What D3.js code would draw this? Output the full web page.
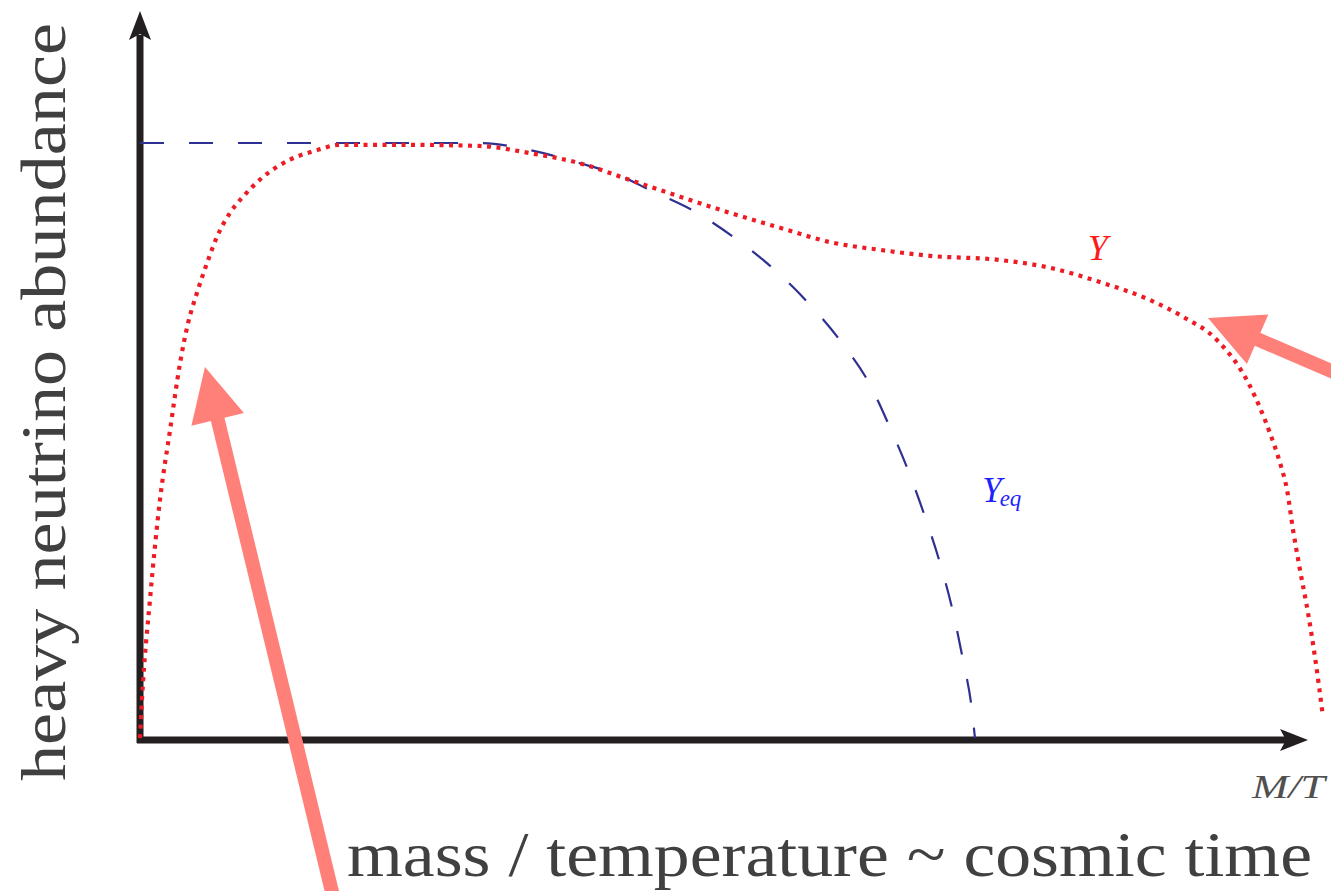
<!DOCTYPE html>
<html>
<head>
<meta charset="utf-8">
<script src="https://cdn.jsdelivr.net/npm/d3@7"></script>
<style>
  body { margin: 0; background: #fff; }
  svg { display: block; }
</style>
</head>
<body>
<div id="chart"></div>
<script>
// abundance curves (x = M/T, y = abundance, plateau = 1)
var yX = [0, 0.017, 0.086, 0.172, 0.259, 0.345, 0.414, 0.491, 0.578, 0.664, 0.776, 0.888, 1.06, 1.293, 1.526, 1.724, 2.241, 2.931, 3.362, 3.793, 4.224, 4.655, 5.086, 5.517, 5.948, 6.379, 6.81, 7.414, 7.845, 8.276, 8.707, 8.991, 9.284, 9.563, 9.741, 9.828, 9.888, 9.94, 10.0, 10.069, 10.129, 10.198];
var yVal = [0.003, 0.067, 0.235, 0.402, 0.519, 0.631, 0.698, 0.749, 0.799, 0.843, 0.883, 0.91, 0.943, 0.972, 0.988, 0.997, 0.997, 0.995, 0.983, 0.966, 0.938, 0.91, 0.883, 0.858, 0.834, 0.821, 0.811, 0.804, 0.791, 0.767, 0.737, 0.709, 0.67, 0.595, 0.514, 0.464, 0.419, 0.352, 0.285, 0.213, 0.139, 0.039];

var yeqX = [0, 2.931, 3.362, 3.793, 4.138, 4.397, 4.802, 5.147, 5.474, 5.776, 6.052, 6.293, 6.448, 6.621, 6.767, 6.897, 7.009, 7.095, 7.172, 7.198];
var yeqVal = [1, 1, 0.988, 0.966, 0.945, 0.921, 0.883, 0.838, 0.787, 0.729, 0.665, 0.595, 0.531, 0.452, 0.374, 0.296, 0.214, 0.134, 0.05, 0.003];

// pink annotation arrows: [fromX, fromY, tipX, tipY]
var arrows = [
    [1.672, -0.268, 0.56, 0.625],
    [10.388, 0.608, 9.207, 0.707]
];

var xLabel = "mass / temperature ~ cosmic time";
var yLabel = "heavy neutrino abundance";

function init() {
    drawChart();
}

function drawChart() {
    var width = 1331, height = 891;

    var svg = d3.select("div#chart")
        .append("svg")
        .attr("width", width)
        .attr("height", height);

    var x = d3.scaleLinear().domain([0, 10]).range([140, 1300]);
    var y = d3.scaleLinear().domain([0, 1]).range([740, 143]);

    var axisColor = "#231f20";
    var xEnd = 10.069, yEnd = 1.221;

    // axes
    svg.append("line")
        .attr("x1", x(0)).attr("y1", y(0) + 3)
        .attr("x2", x(0)).attr("y2", y(yEnd) + 24)
        .attr("stroke", axisColor).attr("stroke-width", 7);
    svg.append("line")
        .attr("x1", x(0) - 3).attr("y1", y(0))
        .attr("x2", x(xEnd) - 22).attr("y2", y(0))
        .attr("stroke", axisColor).attr("stroke-width", 7);

    // axis arrow heads
    var ty = y(yEnd), tx = x(xEnd);
    svg.append("path")
        .attr("d", "M" + x(0) + "," + ty + " L" + (x(0) - 11) + "," + (ty + 29) +
            " L" + x(0) + "," + (ty + 23) + " L" + (x(0) + 11) + "," + (ty + 29) + "Z")
        .attr("fill", axisColor);
    svg.append("path")
        .attr("d", "M" + tx + "," + y(0) + " L" + (tx - 28) + "," + (y(0) - 11) +
            " L" + (tx - 22) + "," + y(0) + " L" + (tx - 28) + "," + (y(0) + 11) + "Z")
        .attr("fill", axisColor);

    var line = d3.line()
        .x(function(d) { return x(d[0]); })
        .y(function(d) { return y(d[1]); })
        .curve(d3.curveMonotoneX);

    // Y_eq dashed
    svg.append("path")
        .datum(d3.zip(yeqX, yeqVal))
        .attr("d", line)
        .attr("fill", "none")
        .attr("stroke", "#2e3192")
        .attr("stroke-width", 2.2)
        .attr("stroke-dasharray", "24,25");

    // Y dotted
    svg.append("path")
        .datum(d3.zip(yX, yVal))
        .attr("d", line)
        .attr("fill", "none")
        .attr("stroke", "#ed1c24")
        .attr("stroke-width", 4.2)
        .attr("stroke-dasharray", "4,5.5");

    // curve labels
    svg.append("text")
        .attr("x", x(8.17)).attr("y", y(0.804))
        .attr("font-family", "'Liberation Serif', serif")
        .attr("font-style", "italic")
        .attr("font-size", 36)
        .attr("fill", "#ff1a1a")
        .text("Y");

    var eq = svg.append("text")
        .attr("x", x(7.26)).attr("y", y(0.399))
        .attr("font-family", "'Liberation Serif', serif")
        .attr("font-style", "italic")
        .attr("font-size", 35)
        .attr("fill", "#1f1fff");
    eq.append("tspan").text("Y");
    eq.append("tspan").attr("font-size", 23).attr("dy", 4).attr("dx", -2).text("eq");

    svg.append("text")
        .attr("x", x(9.586)).attr("y", y(-0.097))
        .attr("font-family", "'Liberation Serif', serif")
        .attr("font-style", "italic")
        .attr("font-size", 33)
        .attr("fill", "#505050")
        .attr("textLength", 73)
        .attr("lengthAdjust", "spacingAndGlyphs")
        .text("M/T");

    // axis titles
    svg.append("text")
        .attr("x", 347).attr("y", 876)
        .attr("font-family", "'Liberation Serif', serif")
        .attr("font-size", 64)
        .attr("fill", "#404040")
        .attr("textLength", 965)
        .attr("lengthAdjust", "spacingAndGlyphs")
        .text(xLabel);

    svg.append("text")
        .attr("transform", "translate(65,402) rotate(-90)")
        .attr("text-anchor", "middle")
        .attr("font-family", "'Liberation Serif', serif")
        .attr("font-size", 64)
        .attr("fill", "#404040")
        .attr("textLength", 758)
        .attr("lengthAdjust", "spacingAndGlyphs")
        .text(yLabel);

    // annotation arrows
    var pink = "#ff7f79";
    arrows.forEach(function(a) {
        var x0 = x(a[0]), y0 = y(a[1]), x1 = x(a[2]), y1 = y(a[3]);
        var dx = x1 - x0, dy = y1 - y0, len = Math.sqrt(dx * dx + dy * dy);
        var ux = dx / len, uy = dy / len;
        var headL = 54, headW = 27;
        var bx = x1 - ux * headL, by = y1 - uy * headL;
        svg.append("line")
            .attr("x1", x0).attr("y1", y0)
            .attr("x2", bx + ux * 2).attr("y2", by + uy * 2)
            .attr("stroke", pink).attr("stroke-width", 14);
        svg.append("path")
            .attr("d", "M" + x1 + "," + y1 +
                " L" + (bx - uy * headW) + "," + (by + ux * headW) +
                " L" + (bx + uy * headW) + "," + (by - ux * headW) + "Z")
            .attr("fill", pink);
    });
}

init();
</script>
</body>
</html>
